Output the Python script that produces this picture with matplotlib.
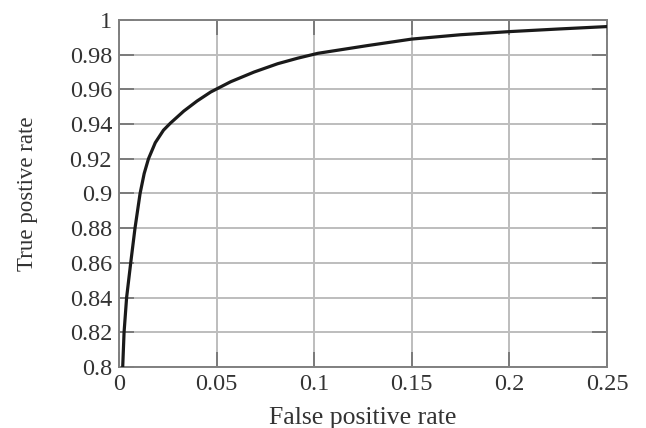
import matplotlib
matplotlib.use("Agg")
import matplotlib.pyplot as plt

# ROC curve
fpr = [0.0019, 0.0026, 0.0039, 0.006, 0.0082, 0.0108, 0.0129, 0.0151,
       0.0186, 0.0228, 0.0263, 0.0332, 0.040, 0.047, 0.0572, 0.0692,
       0.0813, 0.0916, 0.1019, 0.127, 0.15, 0.175, 0.2, 0.225, 0.25]
tpr = [0.80, 0.82, 0.84, 0.86, 0.88, 0.90, 0.9115, 0.92,
       0.9293, 0.9365, 0.9405, 0.9475, 0.9533, 0.9585, 0.9644, 0.970,
       0.9748, 0.978, 0.9808, 0.9852, 0.989, 0.9915, 0.9933, 0.9948, 0.9962]

x_ticks = [0, 0.05, 0.1, 0.15, 0.2, 0.25]
x_labels = ["0", "0.05", "0.1", "0.15", "0.2", "0.25"]
y_ticks = [0.8, 0.82, 0.84, 0.86, 0.88, 0.9, 0.92, 0.94, 0.96, 0.98, 1.0]
y_labels = ["0.8", "0.82", "0.84", "0.86", "0.88", "0.9", "0.92", "0.94",
            "0.96", "0.98", "1"]


def main():
    plt.rcParams["font.family"] = ["Liberation Serif", "DejaVu Serif"]
    fig = plt.figure(figsize=(6.46, 4.28), dpi=100)
    ax = fig.add_axes([0.1842, 0.1425, 0.7554, 0.8108])

    ax.plot(fpr, tpr, color="#1a1a1a", linewidth=2.3, zorder=3,
            solid_joinstyle="round")

    ax.set_xlim(0, 0.25)
    ax.set_ylim(0.8, 1.0)
    ax.set_xticks(x_ticks)
    ax.set_xticklabels(x_labels)
    ax.set_yticks(y_ticks)
    ax.set_yticklabels(y_labels)
    ax.grid(True, color="#bdbdbd", linewidth=1.4)
    ax.set_axisbelow(True)
    ax.tick_params(direction="in", length=11, width=1.2, color="#6f6f6f",
                   top=True, right=True, labelsize=17.5, pad=5,
                   labelcolor="#333333")
    for s in ax.spines.values():
        s.set_color("#808080")
        s.set_linewidth(1.4)

    ax.set_xlabel("False positive rate", fontsize=18.5, color="#333333")
    ax.set_ylabel("True postive rate", fontsize=16.5, color="#333333")
    ax.xaxis.set_label_coords(0.5, -0.116)
    ax.yaxis.set_label_coords(-0.166, 0.5)

    fig.savefig("out.png", dpi=100)


if __name__ == "__main__":
    main()
